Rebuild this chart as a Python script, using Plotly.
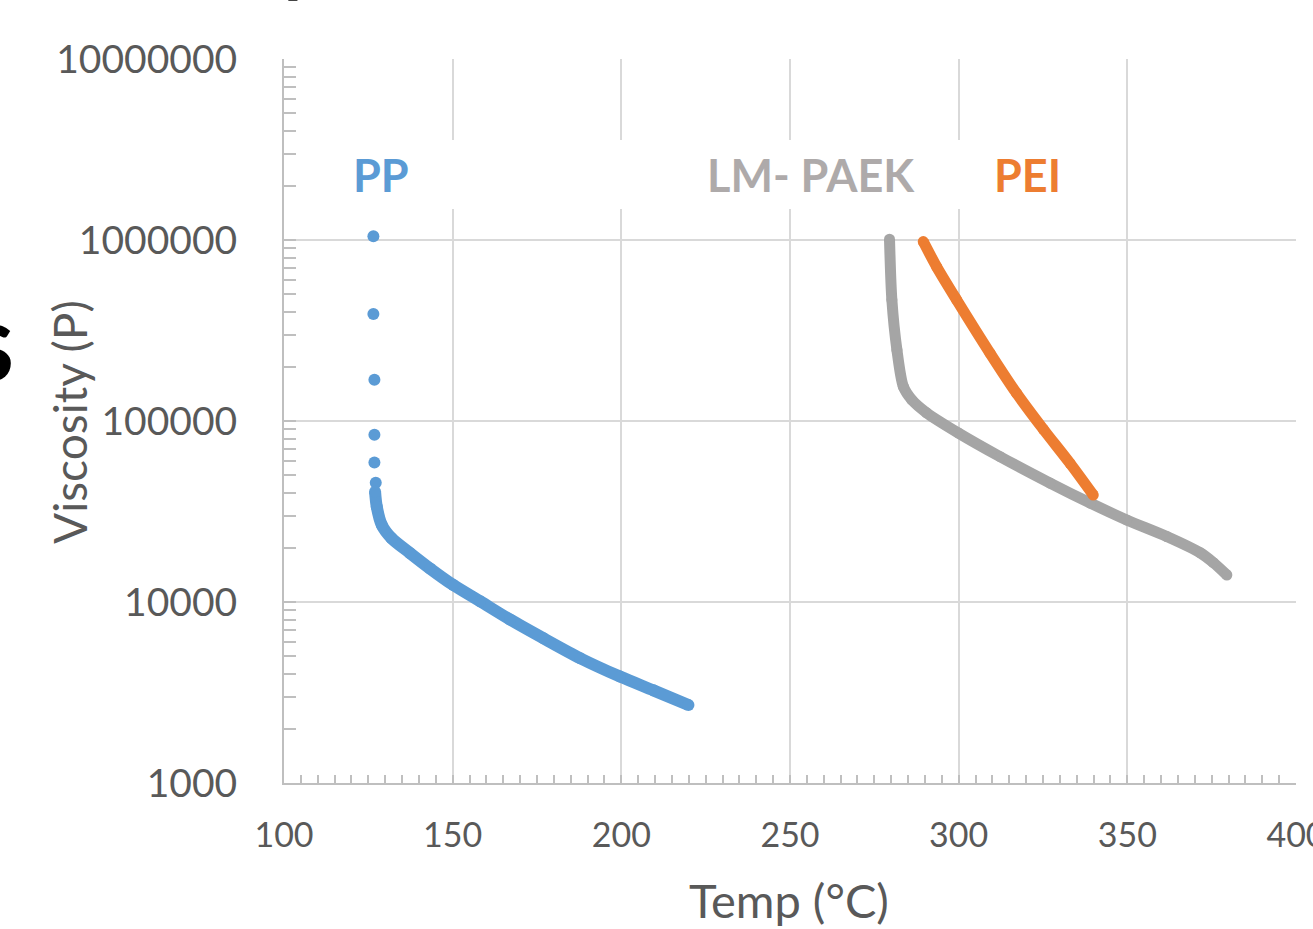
import plotly.graph_objects as go

# ---- data ----
pp_sparse_temp = [126.5, 126.5, 126.8, 126.8, 126.8, 127.2]
pp_sparse_visc = [1.05e6, 3.9e5, 1.69e5, 8.4e4, 5.9e4, 4.56e4]

pp_temp = [127.0, 127.5, 129.0, 131.9, 137.4, 143.3, 150.2, 158.1, 167.0, 176.9, 187.8, 199.6, 209.5, 219.9]
pp_visc = [4.07e4, 3.36e4, 2.66e4, 2.25e4, 1.86e4, 1.53e4, 1.24e4, 1.01e4, 8.0e3, 6.3e3, 4.89e3, 3.87e3, 3.25e3, 2.70e3]

paek_temp = [279.5, 280.2, 281.7, 283.6, 286.1, 290.5, 299.9, 312.3, 327.1, 339.0, 349.8, 361.7, 371.6, 375.5, 379.5]
paek_visc = [1.01e6, 4.67e5, 2.47e5, 1.55e5, 1.31e5, 1.11e5, 8.59e4, 6.35e4, 4.54e4, 3.52e4, 2.84e4, 2.30e4, 1.87e4, 1.65e4, 1.41e4]

pei_temp = [289.5, 293.5, 299.4, 309.3, 317.2, 325.1, 333.0, 339.9]
pei_visc = [9.8e5, 7.1e5, 4.67e5, 2.37e5, 1.42e5, 9.0e4, 5.84e4, 3.9e4]

x_ticks = [100, 150, 200, 250, 300, 350, 400]
y_tick_vals = [1e3, 1e4, 1e5, 1e6, 1e7]
y_tick_labels = ["1000", "10000", "100000", "1000000", "10000000"]

series_labels = ["PP", "LM- PAEK", "PEI"]

C_PP = "#5B9BD5"
C_PAEK = "#A5A5A5"
C_PEI = "#ED7D31"
FONT = "Lato"
TXT = "#595959"

fig = go.Figure()
fig.add_trace(go.Scatter(x=pp_sparse_temp, y=pp_sparse_visc, mode="markers",
                         marker=dict(color=C_PP, size=12), showlegend=False))
fig.add_trace(go.Scatter(x=pp_temp, y=pp_visc, mode="lines+markers",
                         line=dict(color=C_PP, width=12, shape="spline", smoothing=0.8),
                         marker=dict(color=C_PP, size=12), showlegend=False))
fig.add_trace(go.Scatter(x=paek_temp, y=paek_visc, mode="lines+markers",
                         line=dict(color=C_PAEK, width=11, shape="spline", smoothing=0.8),
                         marker=dict(color=C_PAEK, size=11), showlegend=False))
fig.add_trace(go.Scatter(x=pei_temp, y=pei_visc, mode="lines+markers",
                         line=dict(color=C_PEI, width=11, shape="spline", smoothing=0.8),
                         marker=dict(color=C_PEI, size=11), showlegend=False))

W, H = 1313, 929
ML, MR, MT, MB = 284, 17, 59, 146
PW, PH = W - ML - MR, H - MT - MB


def px(xp):
    return (xp - ML) / PW


def py(yp):
    return (H - MB - yp) / PH


fig.update_layout(
    width=W, height=H,
    margin=dict(l=ML, r=MR, t=MT, b=MB, pad=0, autoexpand=False),
    paper_bgcolor="white", plot_bgcolor="white",
    font=dict(family=FONT, color=TXT),
    showlegend=False,
)

fig.update_xaxes(
    range=[100, 400], tickvals=x_ticks, ticktext=[str(v) for v in x_ticks],
    showgrid=True, gridcolor="#D9D9D9", gridwidth=2,
    showline=True, linecolor="#BFBFBF", linewidth=2,
    ticks="inside", ticklen=8, tickcolor="#BFBFBF", tickwidth=1.5,
    minor=dict(dtick=5, ticks="inside", ticklen=8, tickcolor="#BFBFBF", tickwidth=1.5, showgrid=False),
    tickfont=dict(size=34, color=TXT, family=FONT),
    ticklabelstandoff=21, ticklabeloverflow="allow", automargin=False, zeroline=False,
)
fig.update_yaxes(
    type="log", range=[3, 7], tickvals=y_tick_vals, ticktext=y_tick_labels,
    showgrid=True, gridcolor="#D9D9D9", gridwidth=2,
    showline=True, linecolor="#BFBFBF", linewidth=2,
    ticks="inside", ticklen=12, tickcolor="#BFBFBF", tickwidth=1.5,
    minor=dict(dtick="D1", ticks="inside", ticklen=12, tickcolor="#BFBFBF", tickwidth=1.5, showgrid=False),
    tickfont=dict(size=39, color=TXT, family=FONT),
    ticklabelstandoff=37, ticklabeloverflow="allow", automargin=False, zeroline=False,
)

# white box behind the series labels (interrupts gridlines)
fig.add_shape(type="rect", xref="paper", yref="paper",
              x0=px(340), x1=px(1075), y0=py(209), y1=py(140),
              fillcolor="white", line=dict(width=0), layer="above")

label_pos = [(381, C_PP), (811, "#AEAAAA"), (1027, C_PEI)]
for text, (xc, col) in zip(series_labels, label_pos):
    fig.add_annotation(text="<b>%s</b>" % text, xref="paper", yref="paper",
                       x=px(xc), y=py(175), xanchor="center", yanchor="middle",
                       showarrow=False, font=dict(size=45, color=col, family=FONT))

# axis titles
fig.add_annotation(text="Temp (°C)", xref="paper", yref="paper",
                   x=px(789), y=py(900), xanchor="center", yanchor="middle",
                   showarrow=False, font=dict(size=47, color=TXT, family=FONT))
fig.add_annotation(text="Viscosity (P)", xref="paper", yref="paper",
                   x=px(69), y=py(422), xanchor="center", yanchor="middle", textangle=-90,
                   showarrow=False, font=dict(size=46, color=TXT, family=FONT))

# cropped fragments of surrounding figure text
fig.add_annotation(text="<b>s</b>", xref="paper", yref="paper",
                   x=px(16), y=py(338), xanchor="right", yanchor="middle",
                   showarrow=False, font=dict(size=110, color="black", family=FONT))
fig.add_annotation(text="<b>y</b>", xref="paper", yref="paper",
                   x=px(300), y=py(6), xanchor="center", yanchor="bottom",
                   showarrow=False, font=dict(size=80, color="black", family=FONT))

fig.write_html("out.html", config={"displayModeBar": False},
               post_script="document.body.style.margin='0';")
